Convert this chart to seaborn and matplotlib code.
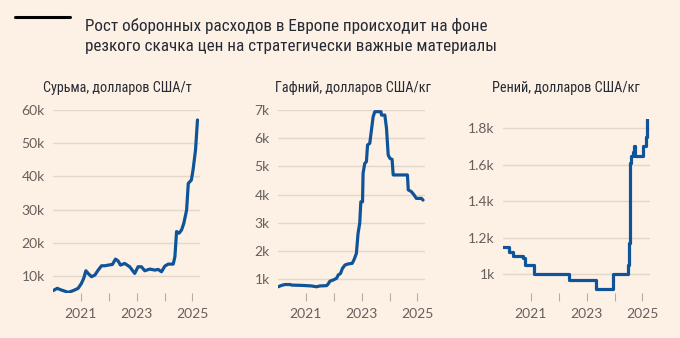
import matplotlib
matplotlib.use("Agg")
import matplotlib.pyplot as plt
import seaborn as sns
import pandas as pd
import os
from matplotlib import font_manager as fm

# ---------------- data ----------------
sb_year = [2020.0, 2020.15, 2020.3, 2020.55, 2020.72, 2020.9, 2021.02, 2021.1, 2021.18, 2021.26,
           2021.38, 2021.5, 2021.62, 2021.74, 2021.86, 2021.98, 2022.13, 2022.24, 2022.33, 2022.42,
           2022.57, 2022.75, 2022.93, 2023.05, 2023.17, 2023.29, 2023.47, 2023.65, 2023.77, 2023.89,
           2024.01, 2024.13, 2024.31, 2024.37, 2024.43, 2024.52, 2024.61, 2024.69, 2024.79, 2024.85,
           2024.96, 2025.02, 2025.11, 2025.18]
sb_value = [5600, 6300, 5800, 5100, 5600, 6300, 7800, 9300, 11600, 10800,
            9800, 10300, 11800, 13100, 13100, 13300, 13500, 15100, 14600, 13300,
            13800, 12800, 10800, 12800, 12800, 11600, 12100, 11800, 12000, 11300,
            13000, 13600, 13600, 15800, 23400, 22900, 23900, 25900, 29900, 37900,
            38900, 41900, 48000, 57000]

hf_year = [2020.0, 2020.13, 2020.25, 2020.43, 2020.49, 2020.85, 2021.2, 2021.38, 2021.5, 2021.74,
           2021.8, 2021.86, 2021.98, 2022.1, 2022.16, 2022.24, 2022.31, 2022.4, 2022.52, 2022.66,
           2022.73, 2022.81, 2022.87, 2022.93, 2022.97, 2023.03, 2023.05, 2023.11, 2023.17, 2023.21,
           2023.29, 2023.35, 2023.41, 2023.47, 2023.69, 2023.71, 2023.83, 2023.89, 2023.95, 2024.01,
           2024.09, 2024.13, 2024.64, 2024.67, 2024.78, 2024.88, 2024.96, 2025.14, 2025.2]
hf_value = [740, 790, 820, 820, 800, 790, 770, 740, 770, 780,
            840, 940, 980, 1040, 1160, 1210, 1390, 1510, 1550, 1570,
            1710, 1920, 2630, 2990, 3750, 3750, 4760, 5110, 5170, 5760,
            5820, 6290, 6760, 6940, 6940, 6820, 6820, 6350, 5410, 5290,
            5250, 4700, 4700, 4170, 4110, 3990, 3870, 3870, 3810]

re_year = [2020.0, 2020.2, 2020.36, 2020.71, 2020.8, 2021.1, 2022.36, 2023.34, 2023.94, 2024.48,
           2024.5, 2024.54, 2024.57, 2024.6, 2024.65, 2024.69, 2024.75, 2025.01, 2025.13, 2025.18]
re_value = [1150, 1120, 1100, 1090, 1050, 1000, 970, 920, 1000, 1050,
            1170, 1200, 1610, 1650, 1670, 1700, 1650, 1700, 1750, 1850]

sb_ticks = [10000, 20000, 30000, 40000, 50000, 60000]
sb_labels = ["10k", "20k", "30k", "40k", "50k", "60k"]
hf_ticks = [1000, 2000, 3000, 4000, 5000, 6000, 7000]
hf_labels = ["1k", "2k", "3k", "4k", "5k", "6k", "7k"]
re_ticks = [1000, 1200, 1400, 1600, 1800]
re_labels = ["1k", "1.2k", "1.4k", "1.6k", "1.8k"]

year_ticks = [2021, 2022, 2023, 2024, 2025]
year_labels = ["2021", "", "2023", "", "2025"]

titles = ["Сурьма, долларов США/т", "Гафний, долларов США/кг", "Рений, долларов США/кг"]
main_title = "Рост оборонных расходов в Европе происходит на фоне\nрезкого скачка цен на стратегически важные материалы"

# ---------------- style ----------------
BG = "#FDF1E6"
LINE = "#0F5499"
GRID = "#E3D6CB"
TICKC = "#66605C"
TITLEC = "#262A33"

sns.set_theme(style="white", rc={"figure.facecolor": BG, "axes.facecolor": BG})
plt.rcParams["font.family"] = ["Lato", "DejaVu Sans"]

# find a condensed font file
cond_fp = None
prefs = ["RobotoCondensed-Regular", "LiberationSansNarrow-Regular", "DejaVuSansCondensed.ttf",
         "OpenSans_Condensed-Regular", "OpenSansCondensed", "NotoSans-Condensed", "Condensed", "Narrow"]
files = fm.findSystemFonts()
for key in prefs:
    cand = [f for f in files if key.lower() in os.path.basename(f).lower()
            and "bold" not in os.path.basename(f).lower()
            and "italic" not in os.path.basename(f).lower()
            and "oblique" not in os.path.basename(f).lower()
            and "light" not in os.path.basename(f).lower()]
    if cand:
        cond_fp = sorted(cand, key=len)[0]
        break

def cprop(size):
    if cond_fp:
        return fm.FontProperties(fname=cond_fp, size=size)
    return fm.FontProperties(family="DejaVu Sans", size=size * 0.85)

W, H = 680, 338
fig = plt.figure(figsize=(6.8, 3.38), dpi=100)
fig.patch.set_facecolor(BG)

def fx(px):
    return px / W

def fy(py):
    return 1 - py / H

panels = [
    dict(left=53, top=110, year=sb_year, val=sb_value, ticks=sb_ticks, labels=sb_labels,
         ylim=(4900, 60000), tx=43),
    dict(left=278, top=110, year=hf_year, val=hf_value, ticks=hf_ticks, labels=hf_labels,
         ylim=(520, 7000), tx=275),
    dict(left=503, top=119, year=re_year, val=re_value, ticks=re_ticks, labels=re_labels,
         ylim=(898, 1850), tx=492),
]

bottom = 293
width = 147
for i, p in enumerate(panels):
    ax = fig.add_axes([fx(p["left"]), fy(bottom), fx(width), (bottom - p["top"]) / H])
    ax.set_facecolor(BG)
    df = pd.DataFrame({"year": p["year"], "value": p["val"]})
    kw = {}
    if i == 2:
        kw["drawstyle"] = "steps-post"
    sns.lineplot(data=df, x="year", y="value", ax=ax, color=LINE, linewidth=2.3,
                 sort=False, estimator=None, **kw)
    ax.set_xlim(2020.0, 2025.27)
    ax.set_ylim(*p["ylim"])
    ax.set_yticks(p["ticks"])
    ax.set_yticklabels(p["labels"])
    ax.set_xticks(year_ticks)
    ax.set_xticklabels(year_labels)
    ax.set_xlabel("")
    ax.set_ylabel("")
    for s in ax.spines.values():
        s.set_visible(False)
    ax.grid(axis="y", color=GRID, linewidth=1.0)
    ax.grid(axis="x", visible=False)
    ax.set_axisbelow(True)
    ax.tick_params(axis="x", which="major", length=6, width=0.8, color="#B8ADA3",
                   labelsize=10, labelcolor=TICKC, pad=5, direction="out", bottom=True)
    ax.tick_params(axis="y", length=0, labelsize=10, labelcolor=TICKC, pad=6)
    fig.text(fx(p["tx"]), fy(88), titles[i], fontproperties=cprop(10.3), color=TITLEC,
             ha="left", va="center")

# black bar and main title
fig.add_artist(plt.Line2D([fx(15), fx(70)], [fy(17), fy(17)], color="black", linewidth=2.2))
fig.text(fx(85), fy(17.5), main_title, fontproperties=cprop(12.3), color=TITLEC,
         ha="left", va="top", linespacing=1.45)

fig.savefig("out.png", dpi=100, facecolor=BG)
